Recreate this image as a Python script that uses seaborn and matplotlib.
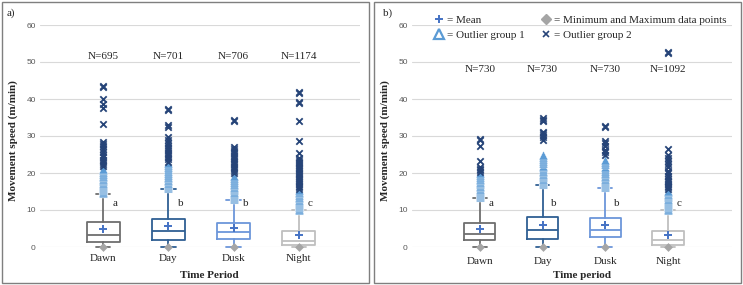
import matplotlib
matplotlib.use('Agg')
import pandas as pd
import matplotlib.pyplot as plt
from matplotlib.lines import Line2D
from matplotlib.patches import Rectangle
import seaborn as sns

# Categorias e cores
periods = ['Dawn', 'Day', 'Dusk', 'Night']
box_colors = ['#6E6E6E', '#2F5F93', '#6C96DA', '#BFBFBF']
letters = ['a', 'b', 'b', 'c']

# Painel a)
a_n = [695, 701, 706, 1174]
a_min = [0, 0, 0, 0]
a_q1 = [1.3, 2.0, 2.1, 0.45]
a_med = [3.2, 4.2, 4.0, 1.6]
a_q3 = [6.8, 7.5, 6.4, 4.3]
a_whi = [14.4, 15.7, 12.7, 9.9]
a_mean = [5.0, 5.7, 5.1, 3.3]
a_out1 = [
    [14.7, 15.0, 15.3, 15.6, 15.9, 16.2, 16.5, 16.8, 17.1, 17.4, 17.8, 18.1, 18.5, 18.9, 19.3, 19.7, 20.2, 20.7, 21.2],
    [15.9, 16.2, 16.5, 16.8, 17.1, 17.4, 17.8, 18.2, 18.6, 19.0, 19.5, 20.0, 20.5, 21.0, 21.6, 22.2, 22.7],
    [12.9, 13.2, 13.5, 13.8, 14.1, 14.4, 14.7, 15.0, 15.3, 15.6, 15.9, 16.3, 16.7, 17.1, 17.5, 18.0, 18.6, 19.1],
    [10.1, 10.4, 10.7, 11.0, 11.3, 11.6, 11.9, 12.2, 12.5, 12.8, 13.2, 13.6, 14.0, 14.5, 15.0, 15.4],
]
a_out2 = [
    [21.8, 22.4, 23.0, 23.6, 24.3, 25.0, 25.7, 26.4, 27.2, 27.9, 28.5, 33.3, 37.5, 38.6, 40.0, 43.2, 43.5],
    [23.1, 23.7, 24.3, 24.9, 25.5, 26.1, 26.7, 27.4, 28.2, 29.0, 29.8, 32.4, 32.9, 37.0, 37.2],
    [19.9, 20.5, 21.1, 21.7, 22.3, 22.9, 23.5, 24.1, 24.7, 25.3, 25.9, 26.5, 27.0, 34.0, 34.2],
    [15.6, 16.1, 16.6, 17.1, 17.6, 18.1, 18.6, 19.1, 19.6, 20.1, 20.6, 21.1, 21.6, 22.1, 22.6, 23.1, 23.5,
     24.0, 25.4, 28.6, 34.1, 39.0, 39.2, 41.7, 42.0],
]

# Painel b)
b_n = [730, 730, 730, 1092]
b_min = [0, 0, 0, 0]
b_q1 = [1.9, 2.2, 2.6, 0.55]
b_med = [3.6, 4.5, 4.7, 2.0]
b_q3 = [6.5, 8.1, 7.9, 4.3]
b_whi = [13.2, 16.8, 15.9, 9.9]
b_mean = [4.9, 5.9, 6.0, 3.2]
b_out1 = [
    [13.4, 13.7, 14.0, 14.3, 14.6, 14.9, 15.2, 15.5, 15.8, 16.1, 16.5, 16.9, 17.3, 17.7, 18.1, 18.5, 18.9, 19.4, 19.9],
    [17.0, 17.3, 17.6, 17.9, 18.2, 18.5, 18.8, 19.1, 19.4, 19.8, 20.2, 20.6, 21.0, 21.5, 22.0, 22.6, 23.2, 23.8, 24.4, 25.0],
    [16.1, 16.4, 16.7, 17.0, 17.3, 17.6, 17.9, 18.2, 18.5, 18.9, 19.3, 19.7, 20.1, 20.6, 21.1, 21.7, 22.3, 22.9, 23.5],
    [10.1, 10.4, 10.7, 11.0, 11.3, 11.6, 11.9, 12.2, 12.5, 12.8, 13.1, 13.4, 13.7, 14.0, 14.4, 14.8, 15.2],
]
b_out2 = [
    [20.4, 20.8, 21.2, 21.6, 23.3, 27.3, 28.8, 29.3],
    [29.0, 29.7, 30.2, 30.8, 31.2, 34.0, 34.4, 34.8],
    [24.9, 25.6, 26.2, 27.2, 28.0, 28.7, 32.3, 32.6],
    [15.6, 16.1, 16.6, 17.1, 17.5, 17.9, 18.5, 19.3, 20.0, 20.5, 21.5, 22.5, 23.3, 24.1, 24.9, 26.6, 52.5, 52.8],
]

SERIF = 'Liberation Serif'
SANS = 'Liberation Sans'
MEAN_C = '#4472C4'
MIN_C = '#A5A5A5'
OUT1_C = '#5B9BD5'
OUT2_C = '#264478'

sns.set_theme(style='white')


def long_form(groups):
    rows = [(p, v) for p, vals in zip(periods, groups) for v in vals]
    return pd.DataFrame(rows, columns=['period', 'value'])


def draw_panel(ax, q1, med, q3, whi, mins, means, ns, out1, out2, n_y, xlabel, xlim, xpad):
    # outliers
    sns.stripplot(data=long_form(out1), x='period', y='value', order=periods, jitter=False,
                  marker='^', color=OUT1_C, edgecolor='white', linewidth=0.3, size=6.5, ax=ax, zorder=3)
    sns.stripplot(data=long_form(out2), x='period', y='value', order=periods, jitter=False,
                  marker='x', color=OUT2_C, linewidth=1.3, size=4.6, ax=ax, zorder=4)
    # caixas
    for i, c in enumerate(box_colors):
        st = dict(med=med[i], q1=q1[i], q3=q3[i], whislo=mins[i], whishi=whi[i], fliers=[])
        lp = dict(color=c, linewidth=1.3)
        ax.bxp([st], positions=[i], widths=0.5, showfliers=False, manage_ticks=False,
               boxprops=lp, whiskerprops=lp, capprops=lp, medianprops=lp, capwidths=0.22)
    for art in ax.lines:
        art.set_clip_on(False)
    # media e minimo
    sns.stripplot(data=long_form([[v] for v in means]), x='period', y='value', order=periods,
                  jitter=False, marker='+', color=MEAN_C, linewidth=1.4, size=5.5, ax=ax, zorder=5)
    sns.stripplot(data=long_form([[v] for v in mins]), x='period', y='value', order=periods,
                  jitter=False, marker='D', color=MIN_C, linewidth=0, size=4.5, ax=ax, zorder=5,
                  clip_on=False)
    for i, n in enumerate(ns):
        ax.text(i, n_y, f'N={n}', ha='center', va='center', fontsize=8, family=SERIF)
        ax.text(i + 0.14, 11.7, letters[i], ha='left', va='center', fontsize=8, family=SERIF)
    ax.set_ylim(0, 60)
    ax.set_xlim(*xlim)
    ax.set_yticks(range(0, 61, 10))
    ax.set_yticklabels([str(v) for v in range(0, 61, 10)], fontsize=6, family=SANS, color='#595959')
    ax.set_xticks(range(4))
    ax.set_xticklabels(periods, fontsize=8, family=SERIF)
    ax.tick_params(axis='both', length=0)
    ax.tick_params(axis='x', pad=xpad)
    ax.tick_params(axis='y', pad=3)
    ax.grid(axis='y', color='#D9D9D9', linewidth=0.8)
    ax.set_axisbelow(True)
    for s in ax.spines.values():
        s.set_visible(False)
    ax.set_ylabel('Movement speed (m/min)', fontsize=8, family=SERIF, fontweight='bold')
    ax.yaxis.set_label_coords(-0.068, 0.48)
    ax.set_xlabel(xlabel, fontsize=8, family=SERIF, fontweight='bold')
    ax.xaxis.set_label_coords(0.53, -0.108)


fig = plt.figure(figsize=(7.43, 2.85), dpi=100)
ax_a = fig.add_axes([40 / 743, 38 / 285, 320 / 743, 222 / 285])
ax_b = fig.add_axes([412 / 743, 38 / 285, 320 / 743, 222 / 285])

draw_panel(ax_a, a_q1, a_med, a_q3, a_whi, a_min, a_mean, a_n, a_out1, a_out2,
           51.6, 'Time Period', (-0.97, 3.94), 5)
draw_panel(ax_b, b_q1, b_med, b_q3, b_whi, b_min, b_mean, b_n, b_out1, b_out2,
           48.1, 'Time period', (-1.08, 4.02), 7)

# legenda do painel b
handles = [
    Line2D([], [], marker='+', color=MEAN_C, linestyle='none', markersize=6, markeredgewidth=1.4),
    Line2D([], [], marker='^', markerfacecolor='none', markeredgecolor=OUT1_C, linestyle='none',
           markersize=7, markeredgewidth=1.6),
    Line2D([], [], marker='D', color=MIN_C, linestyle='none', markersize=5),
    Line2D([], [], marker='x', color=OUT2_C, linestyle='none', markersize=4.5, markeredgewidth=1.2),
]
labels = ['= Mean', '= Outlier group 1', '= Minimum and Maximum data points', '= Outlier group 2']
ax_b.legend(handles, labels, ncol=2, loc='upper left', bbox_to_anchor=(0.058, 1.065), frameon=False,
            prop={'family': SERIF, 'size': 8}, handlelength=0.8, handletextpad=0.3,
            columnspacing=1.5, labelspacing=0.45, borderaxespad=0)

# molduras e rótulos dos painéis
fig.patches.append(Rectangle((2 / 743, 2 / 285), 367 / 743, 281 / 285, transform=fig.transFigure,
                             fill=False, edgecolor='#7F7F7F', linewidth=1))
fig.patches.append(Rectangle((374 / 743, 2 / 285), 367 / 743, 281 / 285, transform=fig.transFigure,
                             fill=False, edgecolor='#7F7F7F', linewidth=1))
fig.text(7 / 743, 1 - 13 / 285, 'a)', fontsize=8, family=SERIF, va='center')
fig.text(383 / 743, 1 - 13 / 285, 'b)', fontsize=8, family=SERIF, va='center')

plt.savefig('out.png', dpi=100)
plt.close()
